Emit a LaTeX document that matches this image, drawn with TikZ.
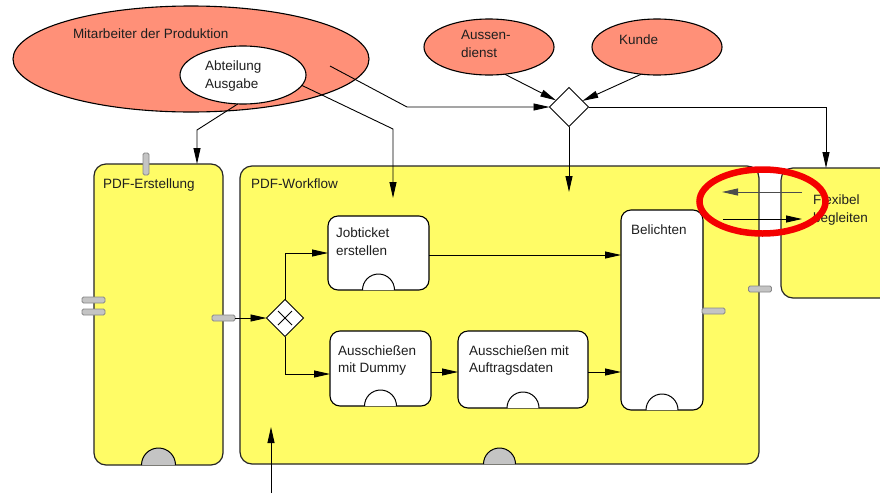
\documentclass[tikz,border=0pt]{standalone}
\usepackage{fontspec}
\setmainfont{Liberation Sans}
\usetikzlibrary{shapes.geometric,arrows.meta}
\definecolor{salmonc}{HTML}{FF9078}
\definecolor{poolyel}{HTML}{FFFC66}
\definecolor{barfill}{HTML}{C4C4C4}
\definecolor{barline}{HTML}{888888}
\definecolor{markred}{HTML}{F40000}
\begin{document}
\begin{tikzpicture}[x=1pt,y=-1pt,
  every node/.style={inner sep=0pt, outer sep=0pt},
  lbl/.style={anchor=base west, font=\fontsize{13.5}{16}\selectfont, text=black!88},
  actor/.style={ellipse, draw=black, line width=1.1pt, fill=salmonc},
  pool/.style={rectangle, rounded corners=12pt, draw=black!85, line width=1.2pt, fill=poolyel},
  task/.style={rectangle, rounded corners=10pt, draw=black, line width=1.1pt, fill=white},
  gate/.style={diamond, draw=black, line width=1pt, fill=white},
  hbar/.style={rectangle, rounded corners=1.5pt, draw=barline, fill=barfill, line width=0.9pt, minimum width=23pt, minimum height=6pt},
  vbar/.style={hbar, minimum width=6pt, minimum height=22pt},
  conn/.style={draw=black, line width=0.9pt},
  arr/.style={conn, -{Triangle[length=16pt,width=7pt]}},
  halfw/.style={draw=black, line width=1pt, fill=white},
  halfg/.style={draw=black, line width=1pt, fill=barfill},
]
\useasboundingbox (0,0) rectangle (880,493);
\fill[white] (0,0) rectangle (880,493);

% ---- actors
\node[actor, minimum width=356, minimum height=106] (mit) at (191,59) {};
\node[actor, fill=white, minimum width=126, minimum height=58] (ab) at (243,75) {};
\node[actor, minimum width=130, minimum height=56] (ad) at (489,47) {};
\node[actor, minimum width=130, minimum height=56] (ku) at (657,47) {};
\node[lbl] (tmit) at (73,38.5) {Mitarbeiter der Produktion};
\node[lbl] (tab1) at (205,70) {Abteilung};
\node[lbl] (tab2) at (205,88) {Ausgabe};
\node[lbl] (tad1) at (461,39) {Aussen-};
\node[lbl] (tad2) at (461,57) {dienst};
\node[lbl] (tku) at (619,44) {Kunde};

% ---- gateway top
\node[gate, minimum width=39, minimum height=39] (gw1) at (569,107) {};

% ---- pools
\node[pool, minimum width=129, minimum height=301] (erst) at (158.5,314.5) {};
\node[pool, minimum width=519, minimum height=298] (wf) at (499.5,315) {};
\node[pool, minimum width=119, minimum height=130] (flex) at (840.5,233) {};
\draw[halfg] ([xshift=-17pt]erst.south) arc[start angle=180, end angle=360, radius=17];
\draw[halfg] ([xshift=-16pt]wf.south) arc[start angle=180, end angle=360, radius=16];
\node[lbl] (terst) at (103,188) {PDF-Erstellung};
\node[lbl] (twf) at (251,188) {PDF-Workflow};
\node[lbl] (tfl1) at (813,204) {Flexibel};
\node[lbl] (tfl2) at (813,222) {begleiten};

% ---- tasks
\node[task, minimum width=101, minimum height=74] (job) at (378.5,253) {};
\node[task, minimum width=101, minimum height=75] (dum) at (380.5,368.5) {};
\node[task, minimum width=130, minimum height=77] (auf) at (523,369.5) {};
\node[task, minimum width=82, minimum height=200] (bel) at (662,310) {};
\foreach \t in {job,dum,auf,bel}
  \draw[halfw] ([xshift=-16pt]\t.south) arc[start angle=180, end angle=360, radius=16];
\node[lbl] (tjob1) at (336,237) {Jobticket};
\node[lbl] (tjob2) at (336,255) {erstellen};
\node[lbl] (tdum1) at (338,355) {Ausschießen};
\node[lbl] (tdum2) at (338,372) {mit Dummy};
\node[lbl] (tauf1) at (469,355) {Ausschießen mit};
\node[lbl] (tauf2) at (469,372) {Auftragsdaten};
\node[lbl] (tbel) at (631,234) {Belichten};

% ---- inner gateway
\node[gate, minimum width=37, minimum height=37] (gw2) at (285,318) {};
\draw[conn] ([shift={(-7,-7)}]gw2.center) -- ([shift={(7,7)}]gw2.center);
\draw[conn] ([shift={(-7,7)}]gw2.center) -- ([shift={(7,-7)}]gw2.center);

% ---- bars
\node[vbar] (bt) at (146,164) {};
\node[hbar] (bl1) at (93.5,300) {};
\node[hbar] (bl2) at (93.5,312) {};
\node[hbar] (bre) at (223.5,318) {};
\node[hbar] (bbel) at (713.5,311) {};
\node[hbar] (bwf) at (760,289) {};

% ---- connectors
\coordinate (mitsrc) at (330,66);
\coordinate (mitbend) at (407,107);
\draw[arr] (mitsrc) -- (mitbend) -- (gw1.west);
\draw[arr] (ad.-60) -- (gw1);
\draw[arr] (ku.-120) -- (gw1);
\coordinate (flexin) at (826,168);
\draw[arr] (gw1.east) -| (flexin);
\coordinate (wfin1) at (569,192);
\draw[arr] (gw1.south) -- (wfin1);
\coordinate (b1) at (197,130);
\draw[arr] (ab.-100) -- (b1) -- (b1 |- erst.north);
\coordinate (b2) at (393,129);
\coordinate (wfin2) at (393,198);
\draw[arr] (ab.-10) -- (b2) -- (wfin2);

\draw[arr] (bre.east) -- (gw2.west);
\draw[arr] (gw2.north) |- (job.west);
\coordinate (d0) at ([yshift=-5.5pt]dum.west);
\draw[arr] (gw2.south) |- (d0);
\coordinate (d1) at ([yshift=-3.5pt]dum.east);
\draw[arr] (d1) -- (d1 -| auf.west);
\coordinate (d2) at ([yshift=-2.5pt]auf.east);
\draw[arr] (d2) -- (d2 -| bel.west);
\coordinate (d3) at ([yshift=-2pt]job.east);
\draw[arr] (d3) -- (d3 -| bel.west);

\coordinate (botsrc) at (271,493);
\coordinate (botend) at (271,427);
\draw[arr] (botsrc) -- (botend);

% ---- annotation
\node[ellipse, draw=markred, line width=6.5pt, minimum width=126, minimum height=64] (mark) at (762.5,201.5) {};
\coordinate (fa1) at (802,192);
\coordinate (fa2) at (722,192);
\coordinate (fb1) at (723,219);
\coordinate (fb2) at (802,219);
\draw[arr, draw=black!70] (fa1) -- (fa2);
\draw[arr] (fb1) -- (fb2);
\end{tikzpicture}
\end{document}
